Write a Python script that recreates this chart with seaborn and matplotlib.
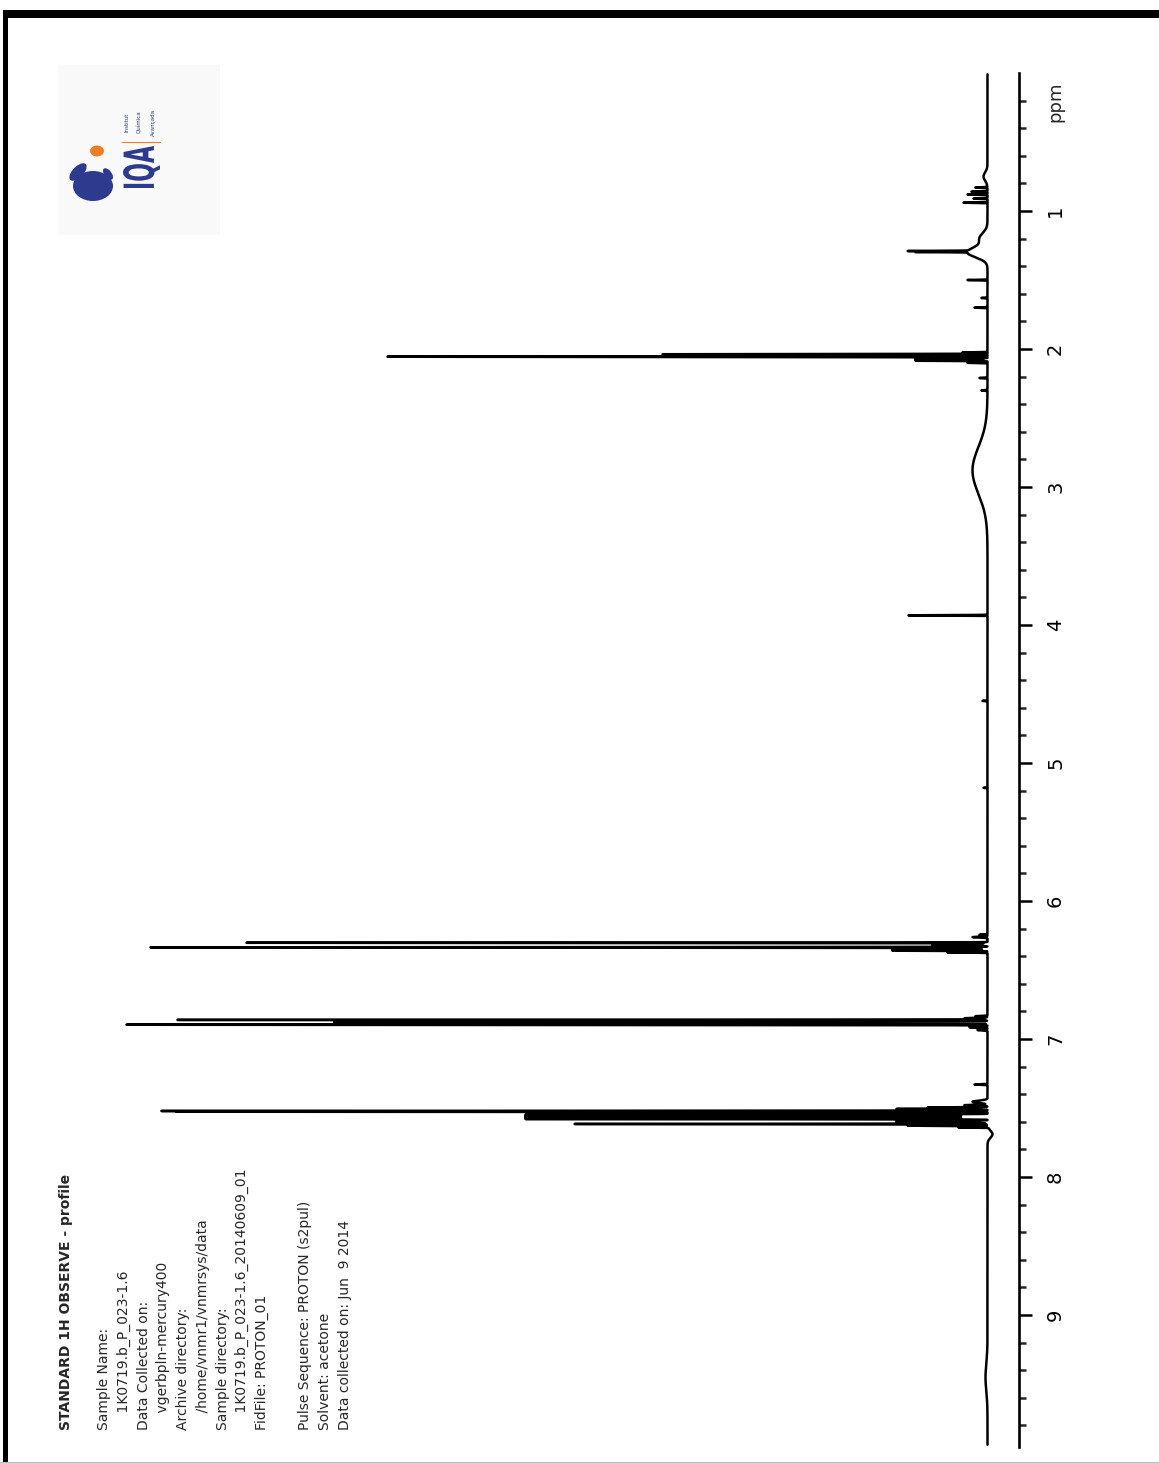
import numpy as np
import pandas as pd
import matplotlib
matplotlib.use("Agg")
import matplotlib.pyplot as plt
import seaborn as sns
from matplotlib.patches import Rectangle, Ellipse, PathPatch
from matplotlib.lines import Line2D
from matplotlib.textpath import TextPath
from matplotlib.font_manager import FontProperties
from matplotlib.transforms import Affine2D

# ---------------- data ----------------
# peak positions (ppm), heights (arbitrary units) and gaussian widths (ppm)
peak_ppm = [0.75, 0.83, 0.86, 0.88, 0.91, 0.94, 1.20, 1.290, 1.297, 1.30, 1.50, 1.63, 1.70,
            2.025, 2.038, 2.056, 2.070, 2.078, 2.085, 2.100, 2.21, 2.30, 2.88, 3.93, 4.55, 5.18,
            6.245, 6.262, 6.303, 6.312, 6.318, 6.324, 6.336, 6.345, 6.352, 6.360, 6.372,
            6.835, 6.850, 6.862, 6.874, 6.880, 6.886, 6.897, 6.915, 6.935,
            7.33, 7.455, 7.480, 7.497, 7.507, 7.522, 7.527, 7.548, 7.556, 7.564, 7.572, 7.580,
            7.595, 7.605, 7.616, 7.628, 7.640, 7.690, 9.45]
peak_height = [4, 12, 16, 20, 14, 24, 8, 60, 52, 20, 20, 6, 13,
               25, 325, 600, 72, 72, 72, 20, 8, 6, 15, 79, 5, 4,
               8, 15, 741, 55, 55, 55, 837, 95, 95, 95, 40,
               12, 23, 810, 653, 653, 653, 861, 18, 10,
               13, 15, 23, 60, 91, 823, 808, 462, 462, 462, 462, 462,
               91, 91, 413, 80, 30, -5, 2]
peak_width = [0.03, 0.002, 0.002, 0.002, 0.002, 0.0015, 0.04, 0.0015, 0.0015, 0.035, 0.0015, 0.002, 0.0015,
              0.0015, 0.0015, 0.0015, 0.0015, 0.0015, 0.0015, 0.0015, 0.002, 0.002, 0.17, 0.0015, 0.0015, 0.0015,
              0.002, 0.003, 0.0015, 0.0015, 0.0015, 0.0015, 0.0015, 0.0015, 0.0015, 0.0015, 0.002,
              0.002, 0.003, 0.0015, 0.0015, 0.0015, 0.0015, 0.0015, 0.003, 0.003,
              0.002, 0.008, 0.003, 0.002, 0.002, 0.0015, 0.0015, 0.0015, 0.0015, 0.0015, 0.0015, 0.0015,
              0.002, 0.002, 0.0015, 0.002, 0.002, 0.025, 0.1]

ppm_first, ppm_last = 0.01, 9.94
axis_top, axis_bottom = 0.0, 9.957
major_ticks = [1, 2, 3, 4, 5, 6, 7, 8, 9]
major_labels = ["1", "2", "3", "4", "5", "6", "7", "8", "9"]
unit_label = "ppm"

title_line = "STANDARD 1H OBSERVE - profile"
info_lines = ["Sample Name:",
              "    1K0719.b_P_023-1.6",
              "Data Collected on:",
              "    vgerbpln-mercury400",
              "Archive directory:",
              "    /home/vnmr1/vnmrsys/data",
              "Sample directory:",
              "    1K0719.b_P_023-1.6_20140609_01",
              "FidFile: PROTON_01"]
acq_lines = ["Pulse Sequence: PROTON (s2pul)",
             "Solvent: acetone",
             "Data collected on: Jun  9 2014"]
logo_name = "IQA"
logo_words = ["Institut", "Química", "Avançada"]

# ---------------- build spectrum from the peak list ----------------
grid = np.union1d(np.linspace(ppm_first, ppm_last, 50000), peak_ppm)
grid = grid[(grid >= ppm_first) & (grid <= ppm_last)]
p = np.asarray(peak_ppm)[:, None]
h = np.asarray(peak_height, dtype=float)[:, None]
s = np.asarray(peak_width)[:, None]
intensity = (h * np.exp(-0.5 * ((grid[None, :] - p) / s) ** 2)).sum(axis=0)
spec = pd.DataFrame({"ppm": grid, "intensity": intensity})

# ---------------- figure ----------------
W, H = 1159, 1463
sns.set_style("white")
plt.rcParams["font.family"] = ["DejaVu Sans"]
fig = plt.figure(figsize=(W / 100, H / 100), dpi=100)
fig.patch.set_facecolor("white")

def fx(px):
    return px / W

def fy(py):
    return 1 - py / H

ax = fig.add_axes([fx(100), fy(1447), (1019 - 100) / W, (1447 - 73) / H])
sns.lineplot(data=spec, x="intensity", y="ppm", sort=False, estimator=None,
             color="black", linewidth=1.8, ax=ax)
ax.set_xlim(887.5, -31.5)
ax.set_ylim(axis_bottom, axis_top)
ax.set_xlabel("")
ax.set_ylabel("")
for side in ["top", "left", "bottom"]:
    ax.spines[side].set_visible(False)
ax.spines["right"].set_linewidth(1.9)
ax.spines["right"].set_color("black")
ax.set_xticks([])
ax.yaxis.tick_right()
ax.set_yticks(major_ticks)
ax.set_yticklabels(major_labels, rotation=90, va="center", ha="left", fontsize=14)
minor = [round(v, 1) for v in np.arange(0.2, 9.81, 0.2) if abs(v - round(v)) > 0.05]
ax.set_yticks(minor, minor=True)
ax.tick_params(axis="y", which="major", direction="out", length=9.5, width=1.8,
               pad=10, colors="black", right=True, left=False)
ax.tick_params(axis="y", which="minor", direction="out", length=5, width=1.8,
               right=True, left=False)
ax.set_facecolor("none")

fig.text(fx(1055), fy(102), unit_label, rotation=90, ha="center", va="center", fontsize=13)

# ---------------- page frame ----------------
fig.add_artist(Rectangle((fx(3), fy(1463)), fx(5), (1463 - 10) / H, transform=fig.transFigure,
                         facecolor="black", edgecolor="none"))
fig.add_artist(Rectangle((fx(3), fy(18)), 1, 8 / H, transform=fig.transFigure,
                         facecolor="black", edgecolor="none"))
fig.add_artist(Line2D([0, 1], [fy(1462), fy(1462)], transform=fig.transFigure,
                      color="#bdbdbd", linewidth=0.8))

# ---------------- parameter text ----------------
fig.text(fx(66), fy(1430), title_line, rotation=90, ha="center", va="bottom",
         fontsize=10, fontweight="bold")
for i, line in enumerate(info_lines):
    fig.text(fx(104 + 19.75 * i), fy(1430), line, rotation=90, ha="center", va="bottom",
             fontsize=10)
for i, line in enumerate(acq_lines):
    fig.text(fx(305 + 20 * i), fy(1430), line, rotation=90, ha="center", va="bottom",
             fontsize=10)

# ---------------- logo ----------------
blue, orange = "#2c3b8e", "#f07d22"
fig.add_artist(Rectangle((fx(58), fy(235)), 162 / W, 170 / H, transform=fig.transFigure,
                         facecolor="#f9f9f9", edgecolor="none"))
fig.add_artist(Ellipse((fx(93), fy(186)), 40 / W, 30 / H, transform=fig.transFigure,
                       facecolor=blue, edgecolor="none"))
fig.add_artist(Ellipse((fx(78), fy(172)), 20 / W, 12 / H, angle=35, transform=fig.transFigure,
                       facecolor=blue, edgecolor="none"))
fig.add_artist(Ellipse((fx(108), fy(174)), 12 / W, 8 / H, angle=-40, transform=fig.transFigure,
                       facecolor=blue, edgecolor="none"))
fig.add_artist(Ellipse((fx(97), fy(151)), 14 / W, 11 / H, transform=fig.transFigure,
                       facecolor=orange, edgecolor="none"))


def fitted_text(txt, x0, x1, y0, y1, color, weight="bold"):
    tp = TextPath((0, 0), txt, size=10, prop=FontProperties(family="DejaVu Sans", weight=weight))
    ext = tp.get_extents()
    tr = (Affine2D().translate(-ext.x0, -ext.y0)
          .scale((y1 - y0) / ext.width, (x1 - x0) / ext.height)
          .rotate_deg(90).translate(x1, H - y1))
    fig.add_artist(PathPatch(tp, transform=tr, facecolor=color, edgecolor="none"))


fitted_text(logo_name, 123, 160, 146, 188, blue)
for i, t in enumerate(logo_words):
    fig.text(fx(127 + 13 * i), fy(122), t, rotation=90, ha="center", va="center",
             fontsize=4, color=blue)
fig.add_artist(Line2D([fx(122), fx(160)], [fy(142), fy(142)], transform=fig.transFigure,
                      color=orange, linewidth=0.8))

fig.savefig("out.png", dpi=100, facecolor="white")
